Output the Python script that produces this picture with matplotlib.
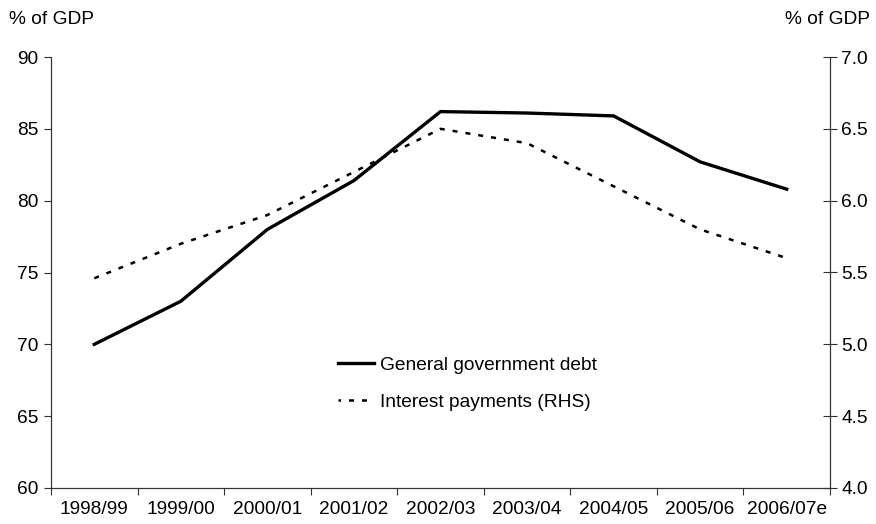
import matplotlib
matplotlib.use("Agg")
import matplotlib.pyplot as plt
from matplotlib.lines import Line2D
from matplotlib.ticker import FixedLocator, FuncFormatter

plt.rcParams['font.family'] = ['Liberation Sans', 'DejaVu Sans']

years = ["1998/99", "1999/00", "2000/01", "2001/02", "2002/03",
         "2003/04", "2004/05", "2005/06", "2006/07e"]
debt = [70.0, 73.0, 78.0, 81.4, 86.2, 86.1, 85.9, 82.7, 80.8]
interest = [5.46, 5.70, 5.90, 6.20, 6.50, 6.40, 6.10, 5.80, 5.60]

debt_label = "General government debt"
interest_label = "Interest payments (RHS)"

FS = 13.8
DASH = (0, (2.0, 3.2))

fig = plt.figure(figsize=(8.76, 5.24), dpi=100)
ax = fig.add_axes([51 / 876, 1 - 488 / 524, (830 - 51) / 876, (488 - 57) / 524])
ax2 = ax.twinx()

x = list(range(len(years)))
ax.plot(x, debt, color="black", lw=2.4, solid_joinstyle="miter")
ax2.plot(x, interest, color="black", lw=1.8, linestyle=DASH, dash_capstyle="butt")

ax.set_xlim(-0.5, len(years) - 0.5)
ax.set_ylim(60, 90)
ax2.set_ylim(4.0, 7.0)

ax.set_yticks([60, 65, 70, 75, 80, 85, 90])
ax2.set_yticks([4.0, 4.5, 5.0, 5.5, 6.0, 6.5, 7.0])
ax2.yaxis.set_major_formatter(FuncFormatter(lambda v, p: f"{v:.1f}"))

# category boundaries carry the tick marks, category centres carry the labels
ax.xaxis.set_major_locator(FixedLocator([i - 0.5 for i in range(len(years) + 1)]))
ax.xaxis.set_major_formatter(FuncFormatter(lambda v, p: ""))
ax.set_xticks(x, minor=True)
ax.set_xticklabels(years, minor=True)

for a in (ax, ax2):
    a.spines['top'].set_visible(False)
    for s in a.spines.values():
        s.set_linewidth(0.8)
        s.set_color("#333333")

ax.tick_params(axis='y', direction='out', length=5, width=0.8, labelsize=FS, pad=4, color="#333333")
ax2.tick_params(axis='y', direction='inout', length=10, width=0.8, labelsize=FS, pad=3, color="#333333")
ax.tick_params(axis='x', which='major', direction='out', length=5, width=0.8, color="#333333")
ax.tick_params(axis='x', which='minor', length=0, labelsize=FS, pad=9)

fig.text(9 / 876, 1 - 20 / 524, "% of GDP", fontsize=FS, va="center", ha="left")
fig.text(870 / 876, 1 - 20 / 524, "% of GDP", fontsize=FS, va="center", ha="right")

handles = [Line2D([], [], color="black", lw=2.4),
           Line2D([], [], color="black", lw=1.8, linestyle=(1.0, (2.0, 3.2)), dash_capstyle="butt")]
ax2.legend(handles, [debt_label, interest_label], loc="upper left",
           bbox_to_anchor=(330 / 876, 1 - 349 / 524), bbox_transform=fig.transFigure,
           frameon=False, fontsize=FS, handlelength=1.9, handletextpad=0.32,
           labelspacing=1.0, borderaxespad=0)

fig.savefig("out.png", dpi=100)
